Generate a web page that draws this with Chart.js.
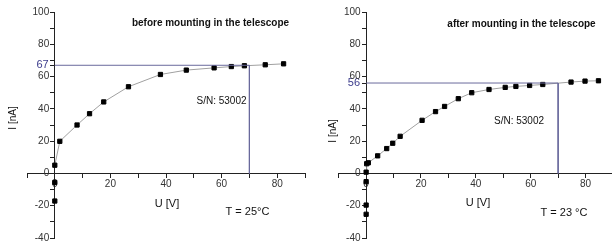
<!DOCTYPE html>
<html>
<head>
<meta charset="utf-8">
<script src="https://cdn.jsdelivr.net/npm/chart.js@4"></script>
<style>
html, body { margin: 0; padding: 0; background: #fff; overflow: hidden; width: 612px; height: 246px; }
#left { position: absolute; left: 0; top: 0; }
#right { position: absolute; left: 306px; top: 0; }
</style>
</head>
<body>
<canvas id="left" width="310" height="246"></canvas>
<canvas id="right" width="312" height="246"></canvas>
<script>
// before mounting: U [V], I [nA]
const uBefore = [0, 1.8, 8, 12.5, 17.6, 26.5, 38, 47.3, 57.3, 63.5, 68.2, 75.7, 82.3];
const iBefore = [5.1, 19.9, 30, 37, 44.3, 53.7, 61.3, 64, 65.4, 66.2, 66.7, 67.3, 67.9];
const uBeforeNeg = [0, 0];
const iBeforeNeg = [-5.6, -17.1];

// after mounting
const uAfter = [0, 0.2, 0.8, 4.2, 7.5, 9.7, 12.4, 20.4, 25.3, 28.6, 33.6, 38.5, 44.8, 50.7, 54.6, 59.6, 64.4, 74.7, 79.8, 84.7];
const iAfter = [0.8, 6.0, 6.6, 10.9, 15.4, 18.7, 23, 32.9, 38.3, 41.5, 46.3, 50, 52, 53.3, 53.9, 54.5, 55.1, 56.6, 57.2, 57.4];
const uAfterNeg = [0, 0, 0];
const iAfterNeg = [-5.1, -19.6, -25.3];

const markU = 70;
const markBefore = 67;
const markAfter = 56;

const xTicks = [0, 20, 40, 60, 80];
const yTicks = [-40, -20, 0, 20, 40, 60, 80, 100];

Chart.defaults.font.family = '"Liberation Sans", Arial, sans-serif';

function pts(us, is) {
    return us.map((u, k) => ({x: u, y: is[k]}));
}

// free text drawn on the canvas
const notes = {
    id: 'notes',
    afterDraw(chart, args, opts) {
        const ctx = chart.ctx;
        ctx.save();
        ctx.fillStyle = '#111';
        ctx.textAlign = 'center';
        ctx.textBaseline = 'middle';
        opts.items.forEach(n => {
            ctx.font = n.font;
            if (n.rotate) {
                ctx.save();
                ctx.translate(n.x, n.y);
                ctx.rotate(-Math.PI / 2);
                ctx.fillText(n.text, 0, 0);
                ctx.restore();
            } else {
                ctx.fillText(n.text, n.x, n.y);
            }
        });
        ctx.restore();
    }
};

function makeChart(id, curve, neg, mark, padLeft, padRight, items) {
    return new Chart(document.getElementById(id), {
        type: 'scatter',
        data: {
            datasets: [
                {
                    data: [{x: 0, y: mark}, {x: markU, y: mark}, {x: markU, y: 0}],
                    showLine: true,
                    borderColor: '#6a6a9c',
                    borderWidth: 1,
                    pointRadius: 0
                },
                {
                    data: curve,
                    showLine: true,
                    borderColor: '#a0a0a0',
                    borderWidth: 1,
                    pointStyle: 'rect',
                    pointRadius: 3,
                    pointBackgroundColor: '#000',
                    pointBorderColor: '#000',
                    pointBorderWidth: 1
                },
                {
                    data: neg,
                    showLine: false,
                    pointStyle: 'rect',
                    pointRadius: 3,
                    pointBackgroundColor: '#000',
                    pointBorderColor: '#000',
                    pointBorderWidth: 1
                }
            ]
        },
        options: {
            responsive: false,
            animation: false,
            layout: {padding: {left: padLeft, right: padRight, top: 12, bottom: 6}},
            plugins: {
                legend: {display: false},
                tooltip: {enabled: false},
                notes: {items: items}
            },
            scales: {
                x: {
                    type: 'linear',
                    min: -10,
                    max: 90,
                    position: {y: 0},
                    grid: {drawOnChartArea: false, tickLength: 4, color: '#222'},
                    border: {color: '#222'},
                    ticks: {
                        stepSize: 10,
                        autoSkip: false,
                        maxRotation: 0,
                        padding: 1,
                        color: '#333',
                        font: {size: 10},
                        callback: v => xTicks.includes(v) ? v : ''
                    }
                },
                y: {
                    type: 'linear',
                    min: -40,
                    max: 100,
                    position: {x: 0},
                    afterBuildTicks: s => {
                        s.ticks.push({value: mark});
                        s.ticks.sort((a, b) => a.value - b.value);
                    },
                    grid: {drawOnChartArea: false, tickLength: 4, color: '#222'},
                    border: {color: '#222'},
                    ticks: {
                        stepSize: 10,
                        autoSkip: false,
                        padding: 2,
                        color: c => c.tick && c.tick.value === mark ? '#3c3c8c' : '#333',
                        font: c => ({size: c.tick && c.tick.value === mark ? 11 : 10}),
                        // labels are right-aligned on the axis line; trailing spaces keep them clear of the ticks
                        callback: v => (yTicks.includes(v) || v === mark) ? v + '  ' : ''
                    }
                }
            }
        },
        plugins: [notes]
    });
}

makeChart('left', pts(uBefore, iBefore), pts(uBeforeNeg, iBeforeNeg), markBefore, 27, 3, [
    {text: 'before mounting in the telescope', x: 210.5, y: 23, font: 'bold 10px "Liberation Sans", Arial'},
    {text: 'S/N: 53002', x: 221.5, y: 101, font: '10px "Liberation Sans", Arial'},
    {text: 'U [V]', x: 167, y: 204, font: '11px "Liberation Sans", Arial'},
    {text: 'T = 25°C', x: 247.5, y: 212, font: '11px "Liberation Sans", Arial'},
    {text: 'I [nA]', x: 13, y: 118, font: '10px "Liberation Sans", Arial', rotate: true}
]);

makeChart('right', pts(uAfter, iAfter), pts(uAfterNeg, iAfterNeg), markAfter, 32.7, 0.3, [
    {text: 'after mounting in the telescope', x: 215.5, y: 24, font: 'bold 10px "Liberation Sans", Arial'},
    {text: 'S/N: 53002', x: 213, y: 121, font: '10px "Liberation Sans", Arial'},
    {text: 'U [V]', x: 172, y: 203, font: '11px "Liberation Sans", Arial'},
    {text: 'T = 23 °C', x: 258, y: 213, font: '11px "Liberation Sans", Arial'},
    {text: 'I [nA]', x: 27, y: 131, font: '10px "Liberation Sans", Arial', rotate: true}
]);
</script>
</body>
</html>
